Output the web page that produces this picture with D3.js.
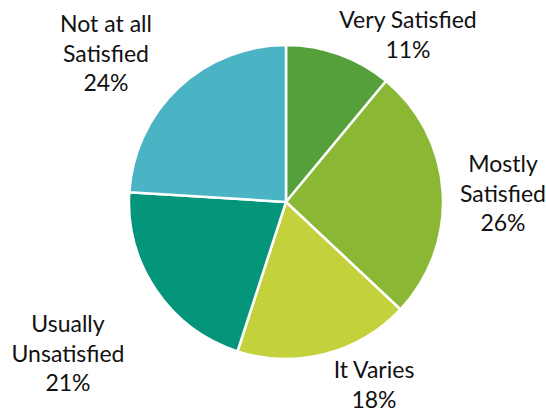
<!DOCTYPE html>
<html>
<head>
<meta charset="utf-8">
<script src="https://cdn.jsdelivr.net/npm/d3@7"></script>
<style>
  html, body { margin: 0; padding: 0; background: #fff; }
  svg { display: block; }
</style>
</head>
<body>
<svg id="chart" width="546" height="413"></svg>
<script>
// Survey responses, clockwise from 12 o'clock
const categories = ["Very Satisfied", "Mostly Satisfied", "It Varies", "Usually Unsatisfied", "Not at all Satisfied"];
const shares = [11, 26, 18, 21, 24];
// How each category name wraps in its label
const labelLines = [
  ["Very Satisfied"],
  ["Mostly", "Satisfied"],
  ["It Varies"],
  ["Usually", "Unsatisfied"],
  ["Not at all", "Satisfied"]
];

// Layout
const width = 546, height = 413;
const cx = 286, cy = 202, radius = 157;
const colors = ["#55A03B", "#8AB834", "#C3D13C", "#04957A", "#4AB4C5"];
// Label block positions (x centre, baseline of the first line)
const labelAnchor = [
  [408, 28],
  [503, 172],
  [374, 378],
  [68, 332],
  [106, 32]
];
const lineHeight = 29.5;

const data = categories.map((c, i) => ({ name: c, value: shares[i], lines: labelLines[i], idx: i }));

const svg = d3.select("#chart");
const g = svg.append("g").attr("transform", `translate(${cx},${cy})`);

const pie = d3.pie().sort(null).value(d => d.value).startAngle(0).endAngle(2 * Math.PI);
const arc = d3.arc().innerRadius(0).outerRadius(radius);

g.selectAll("path.slice")
  .data(pie(data))
  .join("path")
  .attr("class", "slice")
  .attr("d", arc)
  .attr("fill", d => colors[d.data.idx])
  .attr("stroke", "#fff")
  .attr("stroke-width", 2.5)
  .attr("stroke-linejoin", "round");

const labels = svg.selectAll("text.lbl")
  .data(data)
  .join("text")
  .attr("class", "lbl")
  .attr("text-anchor", "middle")
  .attr("font-family", "Lato, 'Open Sans', sans-serif")
  .attr("font-size", 23)
  .attr("fill", "#111");

labels.each(function (d) {
  const t = d3.select(this);
  const [x, y] = labelAnchor[d.idx];
  const lines = d.lines.concat([d3.format(".0%")(d.value / 100)]);
  lines.forEach((ln, k) => {
    t.append("tspan").attr("x", x).attr("y", y + k * lineHeight).text(ln);
  });
});
</script>
</body>
</html>
